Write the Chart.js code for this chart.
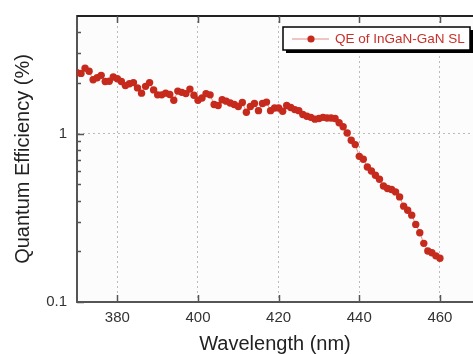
<!DOCTYPE html>
<html>
<head>
<meta charset="utf-8">
<script src="https://cdn.jsdelivr.net/npm/chart.js@4.4.1/dist/chart.umd.min.js"></script>
<style>
  html, body { margin: 0; padding: 0; background: #fff; }
  #wrap { width: 473px; height: 354px; overflow: hidden; }
</style>
</head>
<body>
<div id="wrap"><canvas id="qe-chart" width="473" height="354"></canvas></div>
<script>
// Wavelength (nm) of each measured point
const wavelengths = [
  370, 371, 372, 373, 374, 375, 376, 377, 378, 379,
  380, 381, 382, 383, 384, 385, 386, 387, 388, 389,
  390, 391, 392, 393, 394, 395, 396, 397, 398, 399,
  400, 401, 402, 403, 404, 405, 406, 407, 408, 409,
  410, 411, 412, 413, 414, 415, 416, 417, 418, 419,
  420, 421, 422, 423, 424, 425, 426, 427, 428, 429,
  430, 431, 432, 433, 434, 435, 436, 437, 438, 439,
  440, 441, 442, 443, 444, 445, 446, 447, 448, 449,
  450, 451, 452, 453, 454, 455, 456, 457, 458, 459,
  460
];

// Quantum efficiency (%)
const qeValues = [
  2.30, 2.28, 2.45, 2.35, 2.09, 2.15, 2.22, 2.04, 2.05, 2.17,
  2.12, 2.04, 1.93, 1.98, 2.01, 1.87, 1.74, 1.91, 2.01, 1.82,
  1.70, 1.70, 1.74, 1.71, 1.58, 1.79, 1.76, 1.73, 1.84, 1.69,
  1.58, 1.63, 1.73, 1.70, 1.49, 1.47, 1.59, 1.56, 1.52, 1.49,
  1.45, 1.53, 1.34, 1.45, 1.51, 1.37, 1.51, 1.54, 1.37, 1.42,
  1.42, 1.36, 1.47, 1.43, 1.39, 1.37, 1.30, 1.27, 1.25, 1.22,
  1.23, 1.25, 1.24, 1.24, 1.23, 1.16, 1.10, 1.01, 0.913, 0.861,
  0.733, 0.704, 0.634, 0.600, 0.566, 0.536, 0.489, 0.472, 0.466, 0.451,
  0.421, 0.371, 0.351, 0.328, 0.289, 0.258, 0.223, 0.201, 0.196, 0.188,
  0.182
];

// Axis ticks
const xTicks = [380, 400, 420, 440, 460];
const yTicks = [0.1, 1];
const yMinorTicks = [0.2, 0.3, 0.4, 0.5, 0.6, 0.7, 0.8, 0.9, 2, 3, 4];

const seriesLabel = 'QE of InGaN-GaN SL';
const FONT = "'Liberation Sans', Arial, sans-serif";
const RED = '#c62a1d';

// Light plot background
const plotBackground = {
  id: 'plotBackground',
  beforeDraw(chart) {
    const { ctx, chartArea: a } = chart;
    ctx.save();
    ctx.fillStyle = '#fcfcfc';
    ctx.fillRect(a.left, a.top, a.right - a.left, a.bottom - a.top);
    ctx.restore();
  }
};

// Inward tick marks, top frame line and the boxed legend
const frameAndLegend = {
  id: 'frameAndLegend',
  afterDraw(chart) {
    const { ctx, chartArea: a } = chart;
    const x = chart.scales.x;
    const y = chart.scales.y;
    ctx.save();

    // top frame
    ctx.strokeStyle = '#222';
    ctx.lineWidth = 2;
    ctx.beginPath();
    ctx.moveTo(a.left, a.top);
    ctx.lineTo(a.right, a.top);
    ctx.stroke();

    ctx.strokeStyle = '#555';
    ctx.lineWidth = 1.5;
    ctx.beginPath();
    xTicks.forEach(v => {
      const px = Math.round(x.getPixelForValue(v)) + 0.5;
      ctx.moveTo(px, a.bottom);
      ctx.lineTo(px, a.bottom - 7);
      ctx.moveTo(px, a.top);
      ctx.lineTo(px, a.top + 7);
    });
    yTicks.forEach(v => {
      const py = Math.round(y.getPixelForValue(v)) + 0.5;
      ctx.moveTo(a.left, py);
      ctx.lineTo(a.left + 7, py);
    });
    yMinorTicks.forEach(v => {
      const py = Math.round(y.getPixelForValue(v)) + 0.5;
      ctx.moveTo(a.left, py);
      ctx.lineTo(a.left + 4, py);
    });
    ctx.stroke();

    // legend box with drop shadow
    const bx = 283, by = 27, bw = 187, bh = 23;
    ctx.fillStyle = '#000';
    ctx.fillRect(bx + 3, by + 3, bw, bh);
    ctx.fillStyle = '#fff';
    ctx.fillRect(bx, by, bw, bh);
    ctx.strokeStyle = '#000';
    ctx.lineWidth = 1.5;
    ctx.strokeRect(bx, by, bw, bh);

    const ly = by + bh / 2 + 0.5;
    ctx.strokeStyle = 'rgba(214, 90, 80, 0.7)';
    ctx.lineWidth = 1;
    ctx.beginPath();
    ctx.moveTo(bx + 9, ly);
    ctx.lineTo(bx + 46, ly);
    ctx.stroke();
    ctx.fillStyle = RED;
    ctx.beginPath();
    ctx.arc(bx + 28, ly, 3.6, 0, Math.PI * 2);
    ctx.fill();

    ctx.fillStyle = '#c8302a';
    ctx.font = '13.5px ' + FONT;
    ctx.textBaseline = 'middle';
    ctx.textAlign = 'left';
    ctx.fillText(seriesLabel, bx + 52, ly);
    ctx.restore();
  }
};

function initChart() {
  const canvas = document.getElementById('qe-chart');
  const points = wavelengths.map((w, i) => ({ x: w, y: qeValues[i] }));

  new Chart(canvas, {
    type: 'scatter',
    data: {
      datasets: [{
        label: seriesLabel,
        data: points,
        showLine: true,
        borderColor: 'rgba(214, 90, 80, 0.6)',
        borderWidth: 1,
        pointRadius: 3.7,
        pointBorderWidth: 0,
        pointBackgroundColor: RED
      }]
    },
    options: {
      responsive: false,
      animation: false,
      layout: { autoPadding: false, padding: { top: 16, left: 0, right: 0, bottom: 0 } },
      plugins: {
        legend: { display: false },
        tooltip: { enabled: false }
      },
      scales: {
        x: {
          type: 'linear',
          min: 370,
          max: 468.2,
          afterBuildTicks: s => { s.ticks = xTicks.map(v => ({ value: v })); },
          afterFit: s => { s.height = 52; s.paddingLeft = 0; s.paddingRight = 0; },
          ticks: {
            color: '#333',
            font: { family: FONT, size: 15 },
            padding: 7,
            callback: v => String(v)
          },
          grid: { color: '#bbb', lineWidth: 1, drawTicks: false },
          border: { display: true, color: '#555', width: 2, dash: [2, 3] },
          title: {
            display: true,
            text: 'Wavelength (nm)',
            color: '#222',
            font: { family: FONT, size: 20, lineHeight: 1 },
            padding: { top: 0, bottom: 0 }
          }
        },
        y: {
          type: 'logarithmic',
          min: 0.1,
          max: 5,
          afterBuildTicks: s => { s.ticks = yTicks.map(v => ({ value: v })); },
          afterFit: s => { s.width = 77; s.paddingTop = 0; s.paddingBottom = 0; },
          ticks: {
            color: '#333',
            font: { family: FONT, size: 15 },
            padding: 10,
            callback: v => String(v)
          },
          grid: {
            color: c => (c.tick && c.tick.value === 1 ? '#bbb' : 'transparent'),
            lineWidth: 1,
            drawTicks: false
          },
          border: { display: true, color: '#555', width: 2, dash: [2, 3] },
          title: {
            display: true,
            text: 'Quantum Efficiency (%)',
            color: '#222',
            font: { family: FONT, size: 20, lineHeight: 1 },
            padding: { top: 13, bottom: 0 }
          }
        }
      }
    },
    plugins: [plotBackground, frameAndLegend]
  });
}

document.addEventListener('DOMContentLoaded', initChart);
</script>
</body>
</html>
